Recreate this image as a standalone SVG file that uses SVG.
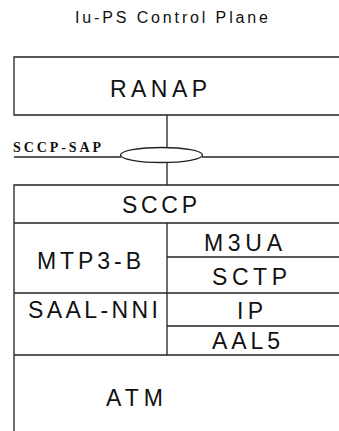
<svg xmlns="http://www.w3.org/2000/svg" width="339" height="431" viewBox="0 0 339 431">
<style>
.ln{stroke:#222;stroke-width:1.3;fill:none}
.t{font-family:"Liberation Sans",Arial,sans-serif;font-size:23px;fill:#111}
.ti{font-family:"Liberation Sans",Arial,sans-serif;font-size:16px;fill:#111}
.sap{font-family:"Liberation Serif","Times New Roman",serif;font-size:14px;font-weight:bold;fill:#111}
</style>
<rect width="339" height="431" fill="#fff"/>
<text class="ti" x="75" y="23" textLength="193" lengthAdjust="spacing">Iu-PS Control Plane</text>
<g id="connectors">
<line class="ln" x1="167" y1="115" x2="167" y2="147"/>
<line class="ln" x1="14" y1="157" x2="121" y2="157"/>
<line class="ln" x1="202" y1="157" x2="339" y2="157"/>
<line class="ln" x1="167" y1="162" x2="167" y2="185"/>
</g>
<g id="sap">
<ellipse class="ln" cx="161.5" cy="155" rx="41" ry="7.5"/>
<text class="sap" x="13" y="152" textLength="88" lengthAdjust="spacing">SCCP-SAP</text>
</g>
<g id="ranap">
<path class="ln" d="M340 57H14V115H340"/>
<text class="t" x="110" y="97" textLength="97" lengthAdjust="spacing">RANAP</text>
</g>
<g id="stack">
<path class="ln" d="M340 185H14V431"/>
<line class="ln" x1="14" y1="223" x2="339" y2="223"/>
<line class="ln" x1="167" y1="223" x2="167" y2="355"/>
<line class="ln" x1="167" y1="257" x2="339" y2="257"/>
<line class="ln" x1="14" y1="293" x2="339" y2="293"/>
<line class="ln" x1="167" y1="326" x2="339" y2="326"/>
<line class="ln" x1="14" y1="355" x2="339" y2="355"/>
</g>
<g id="sccp"><text class="t" x="122" y="213" textLength="75" lengthAdjust="spacing">SCCP</text></g>
<g id="mtp3b"><text class="t" x="37" y="269" textLength="104" lengthAdjust="spacing">MTP3-B</text></g>
<g id="m3ua"><text class="t" x="204" y="251" textLength="78" lengthAdjust="spacing">M3UA</text></g>
<g id="sctp"><text class="t" x="212" y="285" textLength="75" lengthAdjust="spacing">SCTP</text></g>
<g id="saalnni"><text class="t" x="28" y="318" textLength="130" lengthAdjust="spacing">SAAL-NNI</text></g>
<g id="ip"><text class="t" x="237" y="319" textLength="26" lengthAdjust="spacing">IP</text></g>
<g id="aal5"><text class="t" x="212" y="349" textLength="68" lengthAdjust="spacing">AAL5</text></g>
<g id="atm"><text class="t" x="106" y="406" textLength="57" lengthAdjust="spacing">ATM</text></g>
</svg>
